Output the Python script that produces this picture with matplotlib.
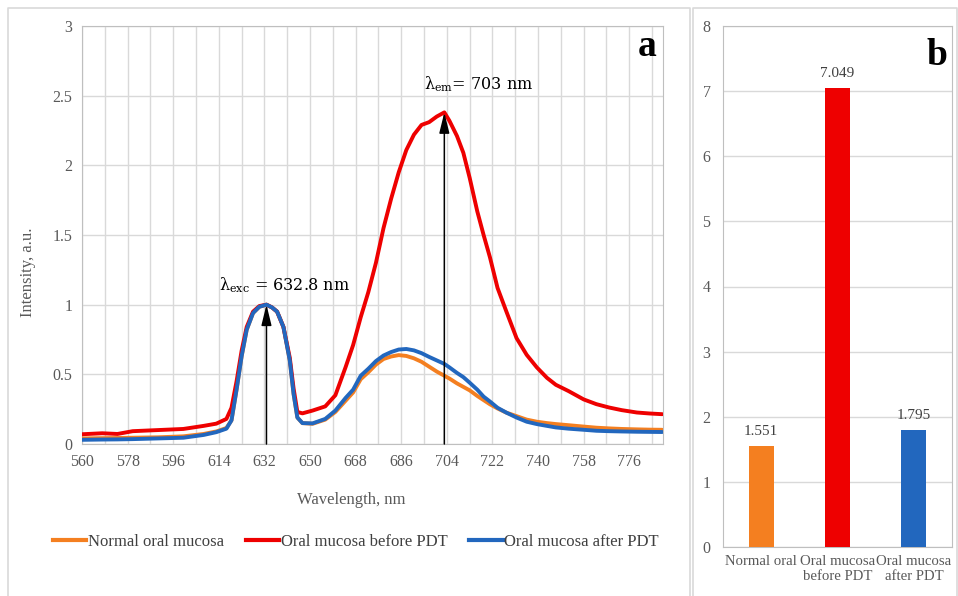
import matplotlib
matplotlib.use("Agg")
import matplotlib.pyplot as plt
from matplotlib.lines import Line2D
import numpy as np

plt.rcParams.update({
    "font.family": "Liberation Serif",
    "mathtext.fontset": "dejavuserif",
    "axes.edgecolor": "#BFBFBF",
    "xtick.color": "#595959",
    "ytick.color": "#595959",
})

# --- panel a: fluorescence spectra ------------------------------------------
wavelength = [560, 568, 574, 580, 590, 600, 608, 613, 617, 619, 621, 623, 625,
              627.5, 630, 632.8, 635, 637, 639.5, 642, 643.5, 645, 647, 651,
              656, 660, 664, 667, 670, 673, 676, 679, 682, 685, 688, 691, 694,
              697, 700, 703, 705, 708, 710.5, 713, 716, 718.5, 721, 724, 727.5,
              731.5, 735.5, 739.5, 743.5, 747, 752, 758, 763, 768, 773, 779,
              784, 789]

normal_mucosa = [0.04, 0.042, 0.043, 0.045, 0.048, 0.055, 0.072, 0.09, 0.115,
                 0.17, 0.39, 0.63, 0.82, 0.94, 0.985, 1.0, 0.98, 0.95, 0.84,
                 0.60, 0.36, 0.19, 0.15, 0.145, 0.175, 0.23, 0.31, 0.37, 0.465,
                 0.515, 0.57, 0.61, 0.628, 0.638, 0.632, 0.615, 0.59, 0.555,
                 0.52, 0.49, 0.47, 0.435, 0.41, 0.385, 0.345, 0.315, 0.285,
                 0.255, 0.225, 0.20, 0.175, 0.16, 0.15, 0.143, 0.135, 0.125,
                 0.117, 0.112, 0.108, 0.105, 0.103, 0.102]

before_pdt = [0.07, 0.077, 0.072, 0.092, 0.10, 0.108, 0.13, 0.146, 0.18, 0.26,
              0.45, 0.67, 0.84, 0.95, 0.99, 1.0, 0.98, 0.95, 0.84, 0.62, 0.40,
              0.23, 0.22, 0.24, 0.27, 0.35, 0.55, 0.71, 0.91, 1.09, 1.30, 1.55,
              1.76, 1.95, 2.11, 2.22, 2.29, 2.31, 2.35, 2.38, 2.32, 2.21, 2.09,
              1.91, 1.67, 1.50, 1.34, 1.12, 0.95, 0.76, 0.64, 0.55, 0.475,
              0.425, 0.38, 0.32, 0.286, 0.262, 0.243, 0.226, 0.219, 0.214]

after_pdt = [0.03, 0.032, 0.033, 0.035, 0.04, 0.045, 0.065, 0.085, 0.11, 0.17,
             0.39, 0.63, 0.82, 0.94, 0.985, 1.0, 0.98, 0.95, 0.84, 0.60, 0.36,
             0.19, 0.15, 0.148, 0.18, 0.24, 0.33, 0.39, 0.49, 0.54, 0.595,
             0.635, 0.66, 0.678, 0.682, 0.672, 0.652, 0.625, 0.60, 0.575, 0.55,
             0.51, 0.48, 0.44, 0.39, 0.34, 0.305, 0.26, 0.225, 0.19, 0.16,
             0.143, 0.13, 0.119, 0.11, 0.102, 0.095, 0.092, 0.09, 0.088, 0.087,
             0.086]

series_names = ["Normal oral mucosa", "Oral mucosa before PDT",
                "Oral mucosa after PDT"]
lambda_exc = 632.8
lambda_em = 703
peak_em = 2.38

# --- panel b: integrated intensity ------------------------------------------
bar_labels = ["Normal oral", "Oral mucosa\nbefore PDT", "Oral mucosa\nafter PDT"]
bar_values = [1.551, 7.049, 1.795]

COLOURS = ["#F47F20", "#EE0000", "#2267BE"]
GRID = "#D9D9D9"

fig = plt.figure(figsize=(9.58, 5.96), dpi=100)

# light chart-area frames like the spreadsheet export
for x0, x1 in [(8, 690), (693, 957)]:
    fig.add_artist(Line2D([x0 / 958, x0 / 958, x1 / 958, x1 / 958],
                          [0, 1 - 8 / 596, 1 - 8 / 596, 0],
                          transform=fig.transFigure, color=GRID, lw=1.2))

ax = fig.add_axes([82 / 958, 1 - 444 / 596, 581 / 958, 418 / 596])
for y, c in zip([normal_mucosa, before_pdt, after_pdt], COLOURS):
    ax.plot(wavelength, y, color=c, lw=2.8, solid_capstyle="round",
            solid_joinstyle="round", zorder=3)

ax.set_xlim(560, 789.3)
ax.set_ylim(0, 3)
ax.set_xticks(np.arange(560, 790, 18))
ax.set_xticks(np.arange(560, 790, 9), minor=True)
ax.set_yticks(np.arange(0, 3.01, 0.5))
ax.set_yticklabels(["0", "0.5", "1", "1.5", "2", "2.5", "3"])
ax.grid(which="both", color=GRID, lw=1.0, zorder=0)
ax.tick_params(which="both", length=0, labelsize=11.5, pad=7)
ax.set_xlabel("Wavelength, nm", fontsize=12, color="#595959")
ax.xaxis.set_label_coords(0.463, -0.115)
ax.set_ylabel("Intensity, a.u.", fontsize=12, color="#595959")
ax.yaxis.set_label_coords(-0.08, 0.41)

arrow = dict(arrowstyle="-|>,head_length=0.9,head_width=0.22", color="black",
             lw=1.1, mutation_scale=14, shrinkA=0, shrinkB=0)
ax.annotate("", xy=(lambda_exc, 1.0), xytext=(lambda_exc, 0), arrowprops=arrow,
            zorder=4)
ax.annotate("", xy=(lambda_em, peak_em), xytext=(lambda_em, 0),
            arrowprops=arrow, zorder=4)
ax.text(614, 1.14, r"$\mathrm{\lambda_{exc}}$ = 632.8 nm", fontsize=11.5,
        family="DejaVu Serif", va="center", ha="left")
ax.text(694.8, 2.58, r"$\mathrm{\lambda_{em}}$= 703 nm", fontsize=11.5,
        family="DejaVu Serif", va="center", ha="left")
ax.text(0.972, 0.952, "a", transform=ax.transAxes, fontsize=27,
        fontweight="bold", ha="center", va="center")

handles = [Line2D([], [], color=c, lw=3) for c in COLOURS]
fig.legend(handles, series_names, loc="center", ncol=3, frameon=False,
           bbox_to_anchor=(356 / 958, 1 - 542 / 596), fontsize=12,
           handlelength=2.0, handletextpad=0.1, columnspacing=1.3,
           labelcolor="#404040")

# --- panel b ----------------------------------------------------------------
bx = fig.add_axes([723 / 958, 1 - 547 / 596, 229 / 958, 521 / 596])
xpos = np.arange(len(bar_values))
bx.bar(xpos, bar_values, width=0.33, color=COLOURS, zorder=3)
for xi, v in zip(xpos, bar_values):
    bx.text(xi, v + 0.12, f"{v:.3f}", ha="center", va="bottom", fontsize=11,
            color="#404040")
bx.set_xlim(-0.5, 2.5)
bx.set_ylim(0, 8)
bx.set_yticks(range(0, 9))
bx.set_xticks(xpos)
bx.set_xticklabels(bar_labels, fontsize=10.6, linespacing=1.15)
bx.grid(axis="y", color=GRID, lw=1.0, zorder=0)
bx.tick_params(length=0)
bx.tick_params(axis="y", pad=9, labelsize=11.5)
bx.tick_params(axis="x", pad=6)
bx.text(0.935, 0.944, "b", transform=bx.transAxes, fontsize=27,
        fontweight="bold", ha="center", va="center")

fig.savefig("out.png", dpi=100, facecolor="white")
